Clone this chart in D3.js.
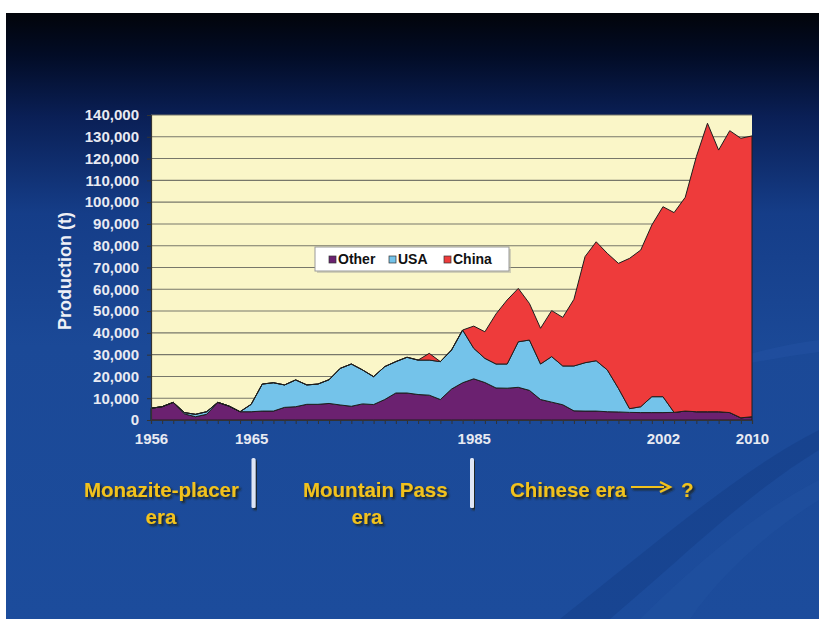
<!DOCTYPE html>
<html>
<head>
<meta charset="utf-8">
<script src="https://cdn.jsdelivr.net/npm/d3@7"></script>
<style>
  body { margin: 0; background: #fff; }
  svg { display: block; font-family: "Liberation Sans", Arial, sans-serif; }
</style>
</head>
<body>
<div id="chart"></div>
<script>
var years = d3.range(1956, 2011);
var labelYears = [1956, 1965, 1985, 2002, 2010];
var seriesNames = ["Other", "USA", "China"];

// production in tonnes
var other = [5400, 6100, 8100, 2800, 1500, 2600, 8100, 6400, 3800, 3800,
             4100, 4100, 5800, 6100, 7200, 7200, 7600, 6900, 6300, 7400,
             7100, 9400, 12400, 12400, 11700, 11400, 9400, 14200, 17100, 18900,
             17200, 14700, 14600, 15000, 13600, 9400, 8200, 7000, 4200, 4100,
             4100, 3800, 3700, 3500, 3400, 3400, 3400, 3500, 4100, 3800,
             3800, 3800, 3400, 1000, 1500];
var usa = [0, 0, 0, 600, 1100, 1200, 0, 0, 0, 3400,
           12400, 13000, 10300, 12300, 8900, 9300, 10900, 16800, 19400, 15600,
           12800, 15100, 14400, 16400, 15800, 16100, 17400, 17900, 24200, 14000,
           11100, 11000, 11100, 20900, 23100, 16300, 20900, 17800, 20600, 22200,
           23100, 19200, 10800, 1700, 2700, 7300, 7300, 0, 0, 0,
           0, 0, 0, 0, 0];
var china = [0, 0, 0, 0, 0, 0, 0, 0, 0, 0,
             0, 0, 0, 0, 0, 0, 0, 0, 0, 0,
             0, 0, 0, 0, 0, 3100, 0, 0, 0, 10200,
             12200, 23000, 29400, 24500, 16800, 16400, 21100, 22300, 30600, 48700,
             54600, 53500, 57400, 69000, 71900, 78800, 87200, 91700, 98100, 117100,
             132400, 120100, 129400, 128300, 128900];

var width = 819, height = 620;

var colors = {"Other": "#6b2170", "USA": "#74c3ea", "China": "#ee3b3b"};

var table = years.map(function(yr, i) {
  return {year: yr, Other: other[i], USA: usa[i], China: china[i]};
});

var svg = d3.select("#chart").append("svg")
    .attr("width", width)
    .attr("height", height);

var defs = svg.append("defs");
var grad = defs.append("linearGradient")
    .attr("id", "bg").attr("x1", 0).attr("y1", 0).attr("x2", 0).attr("y2", 1);
[[0, "#02040a"], [0.07, "#020c26"], [0.17, "#0a1f55"], [0.33, "#153d88"], [0.55, "#1b4997"], [1, "#1c4c9c"]]
  .forEach(function(s) { grad.append("stop").attr("offset", s[0]).attr("stop-color", s[1]); });

var shadow = defs.append("filter").attr("id", "shadow")
    .attr("x", "-10%").attr("y", "-20%").attr("width", "130%").attr("height", "150%");
shadow.append("feDropShadow").attr("dx", 2).attr("dy", 2).attr("stdDeviation", 0.8)
    .attr("flood-color", "#1a1a10").attr("flood-opacity", 0.9);

// slide
svg.append("rect")
    .attr("x", 6).attr("y", 13).attr("width", width - 6).attr("height", 606)
    .attr("fill", "url(#bg)");

// faint swooshes in the lower right
svg.append("path")
    .attr("d", "M560,619 C660,540 740,470 819,430 L819,450 C745,495 680,560 610,619 Z")
    .attr("fill", "#12367a").attr("opacity", 0.3);
svg.append("path")
    .attr("d", "M640,619 C700,560 760,510 819,480 L819,500 C770,530 720,575 690,619 Z")
    .attr("fill", "#2a5cae").attr("opacity", 0.18);
svg.append("path")
    .attr("d", "M700,370 C740,355 780,345 819,340 L819,352 C780,357 740,365 700,372 Z")
    .attr("fill", "#2a5cae").attr("opacity", 0.25);

var x = d3.scaleLinear().domain([1956, 2010]).range([151, 752]);
var y = d3.scaleLinear().domain([0, 140000]).range([420, 115]);

// plot background
svg.append("rect")
    .attr("x", x(1956)).attr("y", y(140000))
    .attr("width", x(2010) - x(1956)).attr("height", y(0) - y(140000))
    .attr("fill", "#faf6c8");

// gridlines
svg.append("g")
  .selectAll("line")
  .data(d3.range(10000, 140001, 10000))
  .enter().append("line")
    .attr("x1", x(1956)).attr("x2", x(2010))
    .attr("y1", function(d) { return y(d); })
    .attr("y2", function(d) { return y(d); })
    .attr("stroke", "#77776a").attr("stroke-width", 1.1);

var stack = d3.stack().keys(seriesNames);
var layers = stack(table);

var area = d3.area()
    .x(function(d) { return x(d.data.year); })
    .y0(function(d) { return y(d[0]); })
    .y1(function(d) { return y(d[1]); });

svg.append("g")
  .selectAll("path")
  .data(layers)
  .enter().append("path")
    .attr("d", area)
    .attr("fill", function(d) { return colors[d.key]; })
    .attr("stroke", "#1e1e1e")
    .attr("stroke-width", 1)
    .attr("stroke-linejoin", "round");

// axes
var yAxis = svg.append("g")
    .attr("transform", "translate(" + x(1956) + ",0)")
    .call(d3.axisLeft(y).tickValues(d3.range(0, 140001, 10000)).tickSize(4).tickPadding(8).tickFormat(d3.format(",")));
yAxis.select(".domain").attr("stroke", "#333").attr("stroke-width", 1.2);
yAxis.selectAll(".tick line").attr("stroke", "#333");
yAxis.selectAll("text")
    .attr("fill", "#e8eaf2").attr("font-size", "15px").attr("font-weight", "bold")
    .attr("font-family", "Liberation Sans, Arial, sans-serif");

var xMinor = svg.append("g")
    .attr("transform", "translate(0," + y(0) + ")")
    .call(d3.axisBottom(x).tickValues(years).tickSize(4).tickFormat(""));
xMinor.select(".domain").attr("stroke", "#333").attr("stroke-width", 1.2);
xMinor.selectAll(".tick line").attr("stroke", "#333");

var xAxis = svg.append("g")
    .attr("transform", "translate(0," + y(0) + ")")
    .call(d3.axisBottom(x).tickValues(labelYears).tickSize(0).tickPadding(13).tickFormat(d3.format("d")));
xAxis.select(".domain").remove();
xAxis.selectAll("text")
    .attr("fill", "#e8eaf2").attr("font-size", "15px").attr("font-weight", "bold")
    .attr("font-family", "Liberation Sans, Arial, sans-serif");

// y title
svg.append("text")
    .attr("transform", "translate(71,271) rotate(-90)")
    .attr("text-anchor", "middle")
    .attr("fill", "#eef0f6")
    .attr("font-size", "18px").attr("font-weight", "bold")
    .text("Production (t)");

// legend
var legend = svg.append("g").attr("transform", "translate(315,247)");
legend.append("rect")
    .attr("x", 2).attr("y", 2).attr("width", 194).attr("height", 24)
    .attr("fill", "#b8b8a8").attr("opacity", 0.6);
legend.append("rect")
    .attr("width", 194).attr("height", 24)
    .attr("fill", "#fff").attr("stroke", "#9a9a9a").attr("stroke-width", 1);
var legX = [14, 74, 129];
var items = legend.selectAll("g.item")
    .data(seriesNames)
  .enter().append("g")
    .attr("class", "item")
    .attr("transform", function(d, i) { return "translate(" + legX[i] + ",0)"; });
items.append("rect")
    .attr("x", 0).attr("y", 9).attr("width", 7).attr("height", 7)
    .attr("fill", function(d) { return colors[d]; })
    .attr("stroke", "#333").attr("stroke-width", 0.7);
items.append("text")
    .attr("x", 9).attr("y", 16.5)
    .attr("font-size", "14px").attr("font-weight", "bold").attr("fill", "#111")
    .text(function(d) { return d; });

// era annotations
var eraColor = "#f2c21b";
var eras = svg.append("g")
    .attr("font-size", "20.5px").attr("font-weight", "bold")
    .attr("fill", eraColor).attr("filter", "url(#shadow)");
eras.append("text").attr("x", 84).attr("y", 497).text("Monazite-placer");
eras.append("text").attr("x", 161).attr("y", 524).attr("text-anchor", "middle").text("era");
eras.append("text").attr("x", 303).attr("y", 497).text("Mountain Pass");
eras.append("text").attr("x", 367).attr("y", 524).attr("text-anchor", "middle").text("era");
eras.append("text").attr("x", 510).attr("y", 497).text("Chinese era");
eras.append("text").attr("x", 681).attr("y", 497).text("?");

var arrow = svg.append("g").attr("filter", "url(#shadow)");
arrow.append("line")
    .attr("x1", 631).attr("x2", 664).attr("y1", 487).attr("y2", 487)
    .attr("stroke", eraColor).attr("stroke-width", 2.2);
arrow.append("path")
    .attr("d", "M660,482 L670,487 L660,492")
    .attr("fill", "none").attr("stroke", eraColor).attr("stroke-width", 2.2);

// era dividers
[253.5, 472].forEach(function(bx) {
  svg.append("rect")
      .attr("x", bx - 2).attr("y", 458).attr("width", 4).attr("height", 50)
      .attr("rx", 1.5)
      .attr("fill", "#dfe6f5").attr("filter", "url(#shadow)");
});
</script>
</body>
</html>
